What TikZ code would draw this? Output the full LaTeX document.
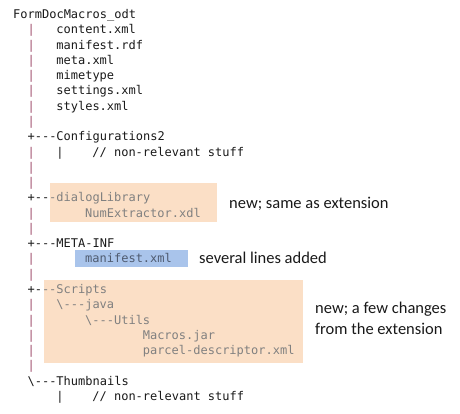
\documentclass[tikz,border=0pt]{standalone}
\usepackage{fontspec}
\setmonofont{DejaVu Sans Mono}
\setsansfont{Carlito}
\usetikzlibrary{positioning,backgrounds}

\definecolor{treebar}{HTML}{A0506E}
\definecolor{newfill}{HTML}{FBDFC6}
\definecolor{editfill}{HTML}{A9C4EB}
\definecolor{newtext}{HTML}{808080}
\definecolor{edittext}{HTML}{4F5B70}

\begin{document}
\begin{tikzpicture}[
    row/.style={anchor=base west, inner sep=0pt, text=black!90, font=\ttfamily\fontsize{12}{14}\selectfont},
    addedrow/.style={row, text=newtext},
    editrow/.style={row, text=edittext},
    note/.style={anchor=base west, inner sep=0pt, align=left, text=black!90, font=\sffamily\fontsize{16.5}{21}\selectfont}
]
    \useasboundingbox (0,0) rectangle (460pt,-414pt);

    % highlighted areas
    \fill[newfill]  (50pt,-183pt) rectangle (217pt,-222pt);
    \fill[editfill] (75pt,-250pt) rectangle (188pt,-267pt);
    \fill[newfill]  (44pt,-280pt) rectangle (303pt,-363pt);

    \begin{scope}[shift={(13pt,-18.5pt)}, x=7.2pt, y=-15.28pt]
        \node[row] (root) at (0,0) {FormDocMacros\_odt};
        \foreach \f [count=\r] in {content.xml, manifest.rdf, meta.xml, mimetype, settings.xml, styles.xml}
            \node[row] (file\r) at (6,\r) {\f};
        \foreach \r in {1,2,3,4,5,6,7,9,10,11,13,14,16,17,19,20,21,22,23}
            \node[row, text=treebar] (bar\r) at (2,\r) {|};

        \node[row] (conf) at (2,8) {+---Configurations2};
        \node[row] (confbar) at (6,9) {|};
        \node[row] (confstuff) at (11,9) {// non-relevant stuff};

        \node[row] (dlgbranch) at (2,12) {+--};
        \node[addedrow] (dlg) at (5,12) {-dialogLibrary};
        \node[addedrow] (xdl) at (10,13) {NumExtractor.xdl};

        \node[row] (meta) at (2,15) {+---META-INF};
        \node[editrow] (mani) at (10,16) {manifest.xml};

        \node[row] (scrbranch) at (2,18) {+-};
        \node[addedrow] (scripts) at (4,18) {--Scripts};
        \node[addedrow] (java) at (6,19) {\textbackslash---java};
        \node[addedrow] (utils) at (10,20) {\textbackslash---Utils};
        \node[addedrow] (jar) at (18,21) {Macros.jar};
        \node[addedrow] (parcel) at (18,22) {parcel-descriptor.xml};

        \node[row] (thumbs) at (2,24) {\textbackslash---Thumbnails};
        \node[row] (thumbbar) at (6,25) {|};
        \node[row] (thumbstuff) at (11,25) {// non-relevant stuff};
    \end{scope}

    % remarks
    \node[note] (dlgnote) at (229pt,-208pt) {new; same as extension};
    \node[note] (maninote) at (199pt,-263pt) {several lines added};
    \node[note] (scrnote) at (315pt,-334pt) {new; a few changes\\from the extension};
\end{tikzpicture}
\end{document}
